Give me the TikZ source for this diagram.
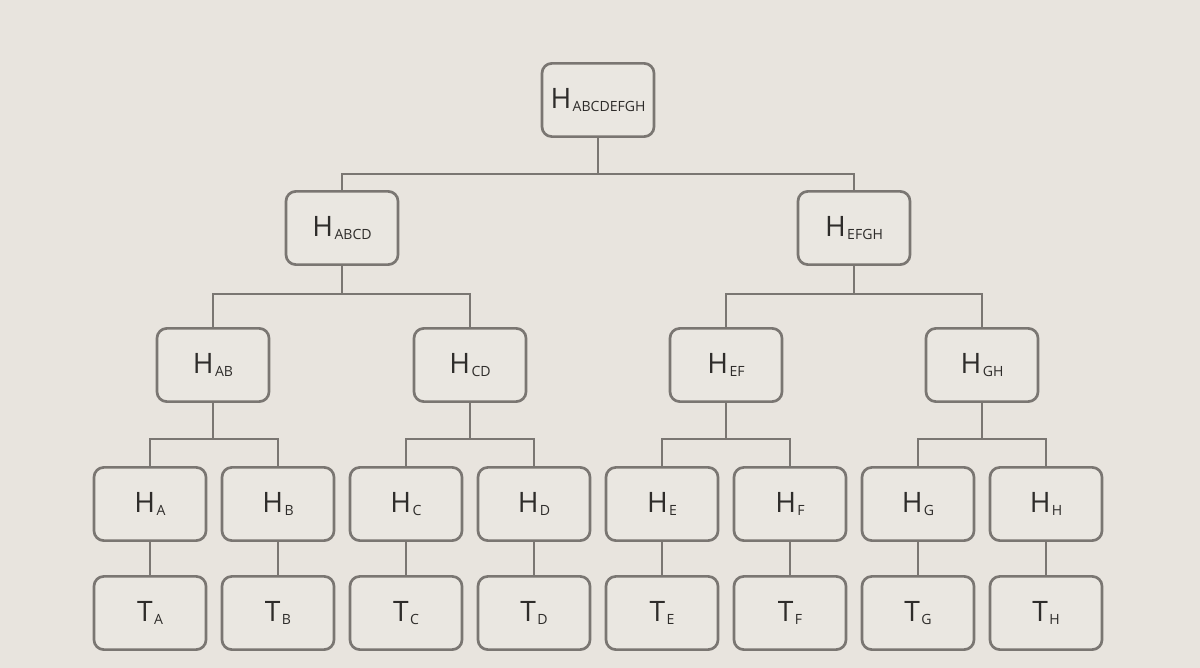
\documentclass[tikz,border=0pt]{standalone}
\usepackage{fontspec}
\setmainfont{Open Sans}
\usetikzlibrary{positioning}

\definecolor{bgcol}{HTML}{E8E4DE}
\definecolor{boxcol}{HTML}{EAE7E1}
\definecolor{edgecol}{HTML}{7A7672}
\definecolor{txtcol}{HTML}{2E2C2A}

\newcommand{\hsub}[2]{{\fontsize{20}{24}\selectfont #1}\kern1pt{\fontsize{10}{12}\selectfont\raisebox{-2.4pt}{#2}}}

\begin{document}
\begin{tikzpicture}[
  x=0.025cm, y=-0.025cm,
  hashbox/.style={
    draw=edgecol,
    fill=boxcol,
    line width=1.9pt,
    rounded corners=7pt,
    align=center,
    minimum width=2.8cm,
    minimum height=1.83cm,
    text=txtcol,
    inner sep=0pt
  },
  line/.style={draw=edgecol, line width=1.9pt}
]

\useasboundingbox (0,0) rectangle (1200,668);
\fill[bgcol] (0,0) rectangle (1200,668);

% Root hash
\node[hashbox] (habcdefgh) at (598,100) {\hsub{H}{ABCDEFGH}};

% Second level
\node[hashbox] (habcd) at (342,228) {\hsub{H}{ABCD}};
\node[hashbox] (hefgh) at (854,228) {\hsub{H}{EFGH}};

% Third level
\node[hashbox] (hab) at (213,365) {\hsub{H}{AB}};
\node[hashbox] (hcd) at (470,365) {\hsub{H}{CD}};
\node[hashbox] (hef) at (726,365) {\hsub{H}{EF}};
\node[hashbox] (hgh) at (982,365) {\hsub{H}{GH}};

% Leaf hashes
\node[hashbox] (ha) at (150,504) {\hsub{H}{A}};
\node[hashbox] (hb) at (278,504) {\hsub{H}{B}};
\node[hashbox] (hc) at (406,504) {\hsub{H}{C}};
\node[hashbox] (hd) at (534,504) {\hsub{H}{D}};
\node[hashbox] (he) at (662,504) {\hsub{H}{E}};
\node[hashbox] (hf) at (790,504) {\hsub{H}{F}};
\node[hashbox] (hg) at (918,504) {\hsub{H}{G}};
\node[hashbox] (hh) at (1046,504) {\hsub{H}{H}};

% Data blocks
\node[hashbox] (ta) at (150,613) {\hsub{T}{A}};
\node[hashbox] (tb) at (278,613) {\hsub{T}{B}};
\node[hashbox] (tc) at (406,613) {\hsub{T}{C}};
\node[hashbox] (td) at (534,613) {\hsub{T}{D}};
\node[hashbox] (te) at (662,613) {\hsub{T}{E}};
\node[hashbox] (tf) at (790,613) {\hsub{T}{F}};
\node[hashbox] (tg) at (918,613) {\hsub{T}{G}};
\node[hashbox] (th) at (1046,613) {\hsub{T}{H}};

% Root to second level
\draw[line] (habcdefgh.south) -- ++(0,36) -| (habcd.north);
\draw[line] (habcdefgh.south) -- ++(0,36) -| (hefgh.north);

% Second to third level
\draw[line] (habcd.south) -- ++(0,28) -| (hab.north);
\draw[line] (habcd.south) -- ++(0,28) -| (hcd.north);
\draw[line] (hefgh.south) -- ++(0,28) -| (hef.north);
\draw[line] (hefgh.south) -- ++(0,28) -| (hgh.north);

% Third level to leaf hashes
\draw[line] (hab.south) -- ++(0,36) -| (ha.north);
\draw[line] (hab.south) -- ++(0,36) -| (hb.north);
\draw[line] (hcd.south) -- ++(0,36) -| (hc.north);
\draw[line] (hcd.south) -- ++(0,36) -| (hd.north);
\draw[line] (hef.south) -- ++(0,36) -| (he.north);
\draw[line] (hef.south) -- ++(0,36) -| (hf.north);
\draw[line] (hgh.south) -- ++(0,36) -| (hg.north);
\draw[line] (hgh.south) -- ++(0,36) -| (hh.north);

% Leaf hashes to data blocks
\draw[line] (ha) -- (ta);
\draw[line] (hb) -- (tb);
\draw[line] (hc) -- (tc);
\draw[line] (hd) -- (td);
\draw[line] (he) -- (te);
\draw[line] (hf) -- (tf);
\draw[line] (hg) -- (tg);
\draw[line] (hh) -- (th);

\end{tikzpicture}
\end{document}
